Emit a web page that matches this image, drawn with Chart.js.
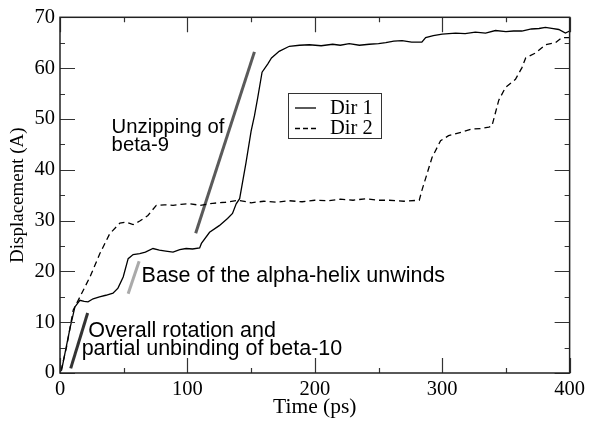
<!DOCTYPE html>
<html>
<head>
<meta charset="utf-8">
<script src="https://cdn.jsdelivr.net/npm/chart.js@4.4.1/dist/chart.umd.min.js"></script>
<style>
  html, body { margin: 0; padding: 0; background: #fff; }
  canvas { display: block; }
</style>
</head>
<body>
<canvas id="displacement" width="589" height="422"></canvas>
<script>
// Dir 1 (solid)
var time1 = [0, 1.3, 4, 8, 11.7, 15.6, 19, 22, 26, 31, 36, 41.6, 45.5, 49.6, 53.5, 57.4, 62.6, 67, 73, 78,
  83, 88.7, 94, 99, 104, 109.6, 111, 117.4, 125, 131.5, 135.4, 138.3, 141, 146, 150, 152.6, 155.2, 158.6,
  163, 166, 172, 180, 188, 195.7, 205, 214, 220, 227, 235, 242.7, 250, 255.7, 262, 268.5, 276, 284, 287,
  293, 300, 310.5, 318, 326, 334, 341.8, 350, 356, 362.5, 370, 376, 381, 386, 391.5, 396.7, 400];
var dir1 = [0.3, 0.6, 4, 9, 13, 14.3, 14.1, 14, 14.6, 15, 15.3, 15.7, 16.7, 18.9, 22.5, 23.3, 23.5, 23.8, 24.5, 24.2,
  24.0, 23.8, 24.3, 24.5, 24.4, 24.6, 25.5, 27.7, 29, 30.4, 31.4, 33.3, 34.3, 41.4, 47.6, 50.6, 54.2, 59.2,
  60.8, 62, 63.3, 64.3, 64.5, 64.6, 64.4, 64.7, 64.5, 64.8, 64.5, 64.7, 64.8, 65, 65.3, 65.4, 65.1, 65.1, 66,
  66.4, 66.7, 66.9, 66.8, 67.1, 66.9, 67.4, 67.2, 67.3, 67.3, 67.7, 67.8, 68, 67.8, 67.6, 66.9, 67.3];

// Dir 2 (dashed)
var time2 = [0, 1.3, 5.2, 10.4, 15.7, 23.5, 31.3, 39, 47, 52, 57.4, 62.6, 69, 75.6, 82, 88.7, 95, 101.7, 110,
  120, 130, 140, 150, 160, 170, 180, 190, 200, 210, 220, 230, 240, 250, 258, 270, 282, 284, 292, 298.7,
  305, 315, 323, 330, 336.6, 339, 344.4, 349.7, 357.5, 362.6, 365.5, 373.4, 381, 388.8, 394, 400];
var dir2 = [0.5, 1, 5.2, 12.4, 15, 18.9, 23.5, 27.4, 29.5, 29.7, 29.2, 29.9, 31, 33, 33.1, 33, 33.2, 33.3, 33,
  33.4, 33.6, 34, 33.5, 33.8, 33.6, 33.9, 33.7, 34, 33.9, 34.2, 34, 34.3, 34, 34, 33.8, 34, 35.9, 42.4, 45.7,
  46.7, 47.4, 48, 48.1, 48.4, 48.6, 53.7, 56.2, 57.8, 60.1, 62, 63, 64.6, 65, 66, 66];

// annotation strokes, [time, displacement] end points
var unzipLine = [[106.5, 27.5], [152.6, 63.2]];
var helixLine = [[53.5, 15.6], [62.1, 22]];
var rotationLine = [[8.4, 0.9], [21.7, 11.8]];

var xRange = [0, 400];
var yRange = [0, 70];

function pts(xs, ys) {
  return xs.map(function(x, i) { return {x: x, y: ys[i]}; });
}
function seg(p) {
  return p.map(function(d) { return {x: d[0], y: d[1]}; });
}

var SERIF = '"Liberation Serif", "Times New Roman", serif';
var SANS = '"Liberation Sans", Arial, sans-serif';

// annotation texts anchored in data coordinates (left, baseline)
var notes = [
  {text: 'Unzipping of', x: 40.5, y: 47.3, size: 20.3},
  {text: 'beta-9', x: 40.5, y: 43.7, size: 20.3},
  {text: 'Base of the alpha-helix unwinds', x: 64, y: 17.9, size: 21.5},
  {text: 'Overall rotation and', x: 22.2, y: 7.06, size: 21.5},
  {text: 'partial unbinding of beta-10', x: 17, y: 3.5, size: 21.5}
];

var framePlugin = {
  id: 'frame',
  afterDatasetsDraw: function(chart) {
    var c = chart.ctx, a = chart.chartArea;
    var xs = chart.scales.x, ys = chart.scales.y;
    c.save();
    c.strokeStyle = '#333';
    c.lineWidth = 1.2;
    var t, len, p;
    c.beginPath();
    for (t = xRange[0]; t <= xRange[1]; t += 50) {
      len = t % 100 === 0 ? 15 : 5;
      p = Math.round(xs.getPixelForValue(t)) + 0.5;
      c.moveTo(p, a.bottom); c.lineTo(p, a.bottom - len);
      c.moveTo(p, a.top); c.lineTo(p, a.top + len);
    }
    for (t = yRange[0]; t <= yRange[1]; t += 5) {
      len = t % 10 === 0 ? 15 : 5;
      p = Math.round(ys.getPixelForValue(t)) + 0.5;
      c.moveTo(a.left, p); c.lineTo(a.left + len, p);
      c.moveTo(a.right, p); c.lineTo(a.right - len, p);
    }
    c.stroke();
    c.lineWidth = 1.5;
    c.strokeStyle = '#222';
    c.strokeRect(a.left, a.top, a.right - a.left, a.bottom - a.top);

    // annotation text
    c.fillStyle = '#000';
    c.textBaseline = 'alphabetic';
    c.textAlign = 'left';
    notes.forEach(function(n) {
      c.font = n.size + 'px ' + SANS;
      c.fillText(n.text, xs.getPixelForValue(n.x), ys.getPixelForValue(n.y));
    });

    // legend box
    var lx = Math.round(a.left + 228), ly = Math.round(a.top + 76);
    c.fillStyle = '#fff';
    c.fillRect(lx, ly, 93, 45);
    c.strokeStyle = '#333';
    c.lineWidth = 1;
    c.strokeRect(lx + 0.5, ly + 0.5, 93, 45);
    c.strokeStyle = '#000';
    c.lineWidth = 1.3;
    c.beginPath(); c.moveTo(lx + 7, ly + 15); c.lineTo(lx + 28, ly + 15); c.stroke();
    c.setLineDash([5, 3]);
    c.beginPath(); c.moveTo(lx + 7, ly + 35.5); c.lineTo(lx + 28, ly + 35.5); c.stroke();
    c.setLineDash([]);
    c.fillStyle = '#000';
    c.font = '20.5px ' + SERIF;
    c.textBaseline = 'middle';
    c.fillText('Dir 1', lx + 42, ly + 16);
    c.fillText('Dir 2', lx + 42, ly + 36);
    c.restore();
  }
};

var ctx = document.getElementById('displacement').getContext('2d');
var chart = new Chart(ctx, {
  type: 'line',
  data: {
    datasets: [
      { label: 'Dir 1', data: pts(time1, dir1), borderColor: '#000', borderWidth: 1.3 },
      { label: 'Dir 2', data: pts(time2, dir2), borderColor: '#000', borderWidth: 1.3, borderDash: [6, 4] },
      { label: 'unzip', data: seg(unzipLine), borderColor: '#5a5a5a', borderWidth: 3 },
      { label: 'helix', data: seg(helixLine), borderColor: '#aaaaaa', borderWidth: 3 },
      { label: 'rotation', data: seg(rotationLine), borderColor: '#333333', borderWidth: 3 }
    ]
  },
  options: {
    responsive: false,
    animation: false,
    layout: { padding: { top: 16, right: 18, left: 0, bottom: 0 } },
    elements: { point: { radius: 0 }, line: { tension: 0 } },
    plugins: { legend: { display: false }, tooltip: { enabled: false } },
    scales: {
      x: {
        type: 'linear', min: xRange[0], max: xRange[1],
        grid: { display: false, drawTicks: false },
        border: { display: false },
        ticks: { stepSize: 100, color: '#000', padding: 4, font: { family: SERIF, size: 20.5 } },
        title: { display: true, text: 'Time (ps)', color: '#000', padding: { top: 0, bottom: 2 }, font: { family: SERIF, size: 21.5 } },
        afterFit: function(s) { s.height = 49; }
      },
      y: {
        min: yRange[0], max: yRange[1],
        grid: { display: false, drawTicks: false },
        border: { display: false },
        ticks: { stepSize: 10, color: '#000', padding: 5, font: { family: SERIF, size: 20.5 } },
        title: { display: true, text: 'Displacement (A)', color: '#000', padding: { top: 6.5, bottom: 0 }, font: { family: SERIF, size: 19 } },
        afterFit: function(s) { s.width = 60; }
      }
    }
  },
  plugins: [framePlugin]
});
</script>
</body>
</html>
